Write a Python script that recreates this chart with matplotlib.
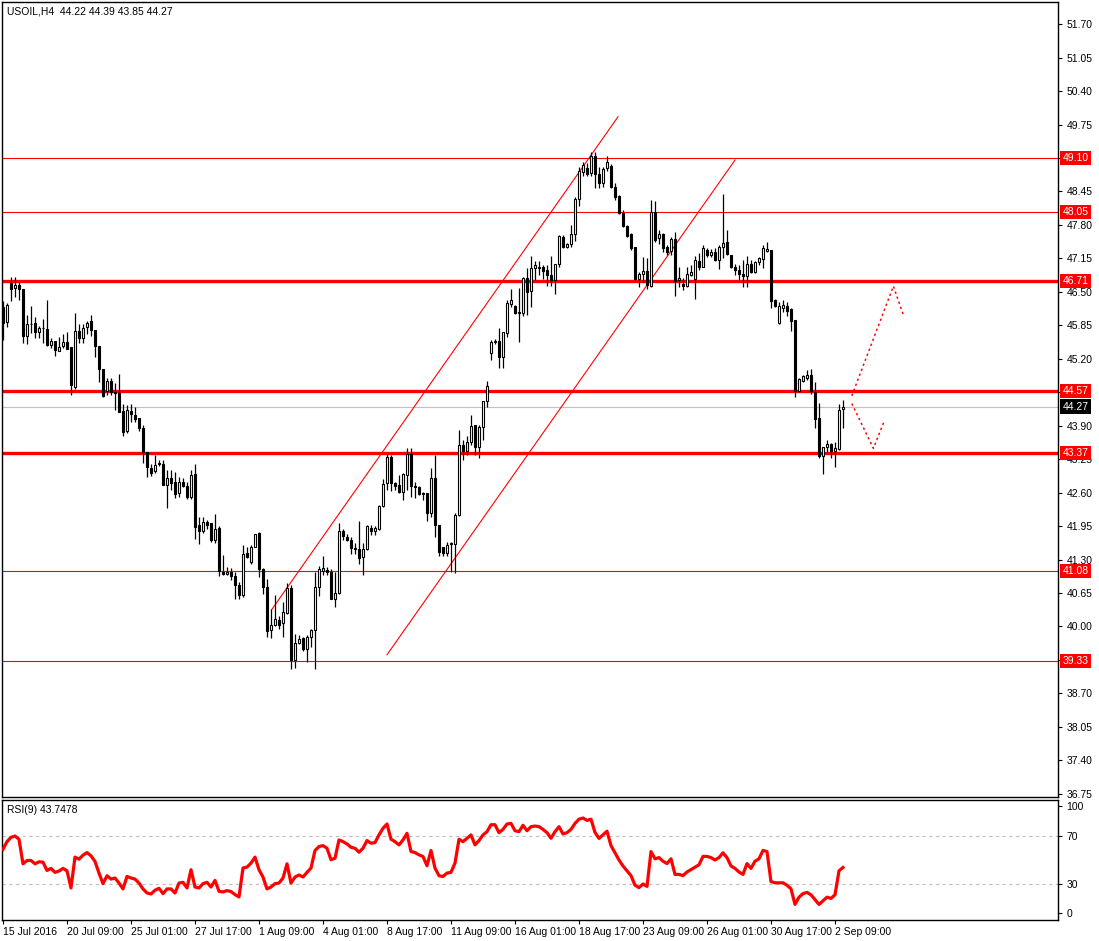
import matplotlib
matplotlib.use("Agg")
import matplotlib.pyplot as plt
import numpy as np

plt.rcParams["font.family"] = ["Liberation Sans", "DejaVu Sans"]

# ---------------- data (USOIL H4) ----------------
opens = [46.20, 45.91, 46.67, 46.57, 46.64, 46.55, 45.65, 45.87, 45.90, 45.71,
         45.79, 45.78, 45.47, 45.55, 45.36, 45.44, 45.52, 45.43, 44.66, 45.74,
         45.61, 45.81, 45.93, 45.76, 45.45, 45.01, 44.57, 44.76, 44.56, 44.53,
         44.19, 43.80, 44.19, 44.11, 44.04, 43.86, 43.39, 43.07, 43.01, 43.18,
         43.15, 42.75, 42.88, 42.80, 42.60, 42.81, 42.73, 42.52, 42.97, 41.97,
         41.86, 42.03, 42.00, 41.68, 41.92, 41.06, 41.02, 41.06, 40.98, 40.80,
         40.61, 41.42, 41.25, 41.55, 41.81, 41.11, 40.77, 39.94, 40.03, 40.12,
         40.06, 40.27, 40.74, 39.35, 39.68, 39.78, 39.57, 39.79, 39.94, 40.76,
         41.08, 41.10, 41.06, 40.53, 40.65, 41.86, 41.74, 41.68, 41.53, 41.50,
         41.34, 41.50, 41.91, 41.86, 41.89, 42.34, 42.78, 43.30, 42.78, 42.75,
         42.62, 42.94, 43.35, 42.72, 42.70, 42.60, 42.60, 42.20, 42.88, 41.97,
         41.54, 41.43, 41.63, 41.61, 42.17, 43.53, 43.41, 43.59, 43.91, 43.49,
         43.88, 44.37, 45.32, 45.52, 45.55, 45.23, 45.70, 46.26, 46.22, 46.10,
         46.08, 46.76, 46.52, 46.96, 46.99, 46.99, 46.92, 46.83, 46.73, 47.05,
         47.57, 47.38, 47.42, 47.62, 48.30, 48.83, 48.90, 48.80, 49.14, 48.79,
         48.62, 48.90, 48.95, 48.54, 48.36, 48.04, 47.78, 47.62, 47.37, 46.74,
         46.85, 46.91, 46.61, 48.06, 47.54, 47.62, 47.38, 47.30, 47.52, 46.73,
         46.66, 46.61, 46.83, 46.75, 47.09, 46.99, 47.31, 47.22, 47.28, 47.12,
         47.38, 47.46, 47.22, 46.99, 46.93, 46.85, 46.80, 47.05, 46.89, 47.07,
         47.13, 47.30, 47.31, 46.34, 45.89, 46.19, 46.22, 46.16, 45.95, 44.58,
         44.77, 44.82, 44.88, 44.56, 44.04, 43.31, 43.48, 43.54, 43.40, 43.44,
         44.22]
highs = [46.32, 46.28, 46.79, 46.78, 46.69, 46.56, 46.05, 46.22, 46.02, 45.83,
         45.98, 46.34, 45.60, 45.55, 45.63, 45.68, 45.72, 45.43, 46.09, 45.87,
         45.87, 45.93, 46.05, 45.76, 45.45, 45.01, 44.83, 44.83, 44.72, 44.90,
         44.32, 44.30, 44.32, 44.27, 44.04, 43.91, 43.39, 43.16, 43.33, 43.24,
         43.23, 43.04, 43.04, 43.00, 42.91, 42.88, 42.81, 43.04, 43.15, 42.13,
         42.13, 42.07, 42.00, 42.18, 41.95, 41.39, 41.15, 41.13, 41.06, 40.87,
         41.58, 41.54, 41.58, 41.79, 41.84, 41.13, 40.93, 40.33, 40.61, 40.20,
         40.48, 40.85, 40.80, 39.85, 39.83, 39.80, 39.83, 39.96, 41.06, 41.17,
         41.37, 41.16, 41.11, 41.06, 42.01, 41.90, 41.79, 41.74, 41.63, 42.05,
         41.63, 41.97, 41.97, 41.95, 42.36, 42.86, 43.35, 43.34, 42.81, 42.94,
         42.99, 43.46, 43.46, 42.81, 42.73, 42.62, 42.60, 43.07, 43.33, 41.97,
         41.54, 41.65, 41.65, 42.20, 43.82, 43.62, 43.69, 44.11, 43.91, 43.91,
         44.37, 44.76, 45.56, 45.58, 45.79, 45.71, 46.35, 46.55, 46.24, 46.57,
         46.78, 46.96, 47.20, 47.09, 47.09, 47.02, 47.02, 47.20, 47.05, 47.60,
         47.60, 47.44, 47.80, 48.35, 48.92, 49.03, 49.01, 49.22, 49.22, 48.93,
         48.92, 49.14, 48.98, 48.61, 48.38, 48.08, 47.80, 47.65, 47.37, 46.89,
         47.18, 47.15, 48.28, 48.27, 47.71, 47.64, 47.41, 47.57, 47.67, 46.99,
         46.76, 46.98, 47.02, 47.20, 47.26, 47.41, 47.35, 47.33, 47.35, 47.41,
         48.40, 47.70, 47.22, 47.05, 47.02, 47.12, 47.20, 47.12, 47.09, 47.17,
         47.41, 47.46, 47.31, 46.37, 46.31, 46.35, 46.31, 46.18, 45.95, 44.82,
         44.88, 44.99, 45.01, 44.75, 44.35, 43.49, 43.63, 43.57, 43.59, 44.33,
         44.39]
lows = [45.56, 45.82, 46.33, 46.40, 46.34, 45.51, 45.49, 45.70, 45.60, 45.60,
        45.51, 45.45, 45.40, 45.25, 45.35, 45.40, 45.39, 44.50, 44.61, 45.51,
        45.51, 45.69, 45.64, 45.23, 44.75, 44.45, 44.50, 44.50, 44.20, 44.17,
        43.69, 43.76, 43.98, 43.98, 43.80, 43.18, 42.91, 42.93, 42.99, 43.11,
        42.75, 42.31, 42.66, 42.50, 42.52, 42.71, 42.47, 42.47, 41.69, 41.61,
        41.81, 41.90, 41.65, 41.63, 40.98, 41.00, 40.99, 40.90, 40.53, 40.53,
        40.58, 41.32, 41.21, 41.54, 40.97, 40.64, 39.79, 39.77, 40.00, 39.96,
        39.80, 40.25, 39.18, 39.20, 39.66, 39.53, 39.31, 39.61, 39.18, 40.59,
        41.00, 41.00, 40.53, 40.38, 40.64, 41.68, 41.66, 41.41, 41.41, 41.21,
        41.00, 41.49, 41.78, 41.78, 41.87, 42.33, 42.65, 42.64, 42.65, 42.60,
        42.46, 42.65, 42.51, 42.49, 42.55, 42.46, 42.04, 42.13, 41.74, 41.36,
        41.36, 41.36, 41.06, 41.03, 42.15, 43.23, 43.33, 43.53, 43.33, 43.27,
        43.62, 44.27, 45.18, 45.49, 45.02, 45.02, 45.63, 46.21, 46.07, 45.53,
        46.03, 46.05, 46.21, 46.73, 46.83, 46.74, 46.61, 46.61, 46.46, 46.99,
        47.35, 47.35, 47.38, 47.48, 48.16, 48.75, 48.75, 48.75, 48.51, 48.51,
        48.54, 48.85, 48.51, 48.28, 48.01, 47.75, 47.56, 47.31, 46.73, 46.60,
        46.70, 46.55, 46.59, 47.47, 47.43, 47.28, 47.22, 47.22, 46.41, 46.60,
        46.54, 46.60, 46.80, 46.37, 46.93, 46.98, 47.17, 47.18, 47.09, 46.94,
        47.15, 47.22, 46.96, 46.83, 46.73, 46.60, 46.60, 46.86, 46.87, 47.02,
        46.96, 47.28, 46.18, 46.21, 45.88, 46.11, 46.03, 45.73, 44.46, 44.56,
        44.75, 44.79, 44.52, 43.85, 43.27, 42.96, 43.38, 43.27, 43.10, 43.43,
        43.85]
closes = [45.90, 46.24, 46.55, 46.64, 46.56, 45.65, 45.88, 45.88, 45.71, 45.80,
          45.79, 45.47, 45.55, 45.37, 45.42, 45.52, 45.39, 44.69, 45.73, 45.61,
          45.79, 45.90, 45.76, 45.45, 45.00, 44.47, 44.77, 44.56, 44.53, 44.17,
          43.78, 44.21, 44.12, 44.03, 43.86, 43.38, 43.09, 42.99, 43.14, 43.16,
          42.75, 42.88, 42.78, 42.57, 42.81, 42.73, 42.52, 42.95, 41.94, 41.86,
          42.03, 41.97, 41.68, 41.90, 41.08, 41.02, 41.06, 40.98, 40.80, 40.61,
          41.41, 41.34, 41.55, 41.79, 41.11, 40.77, 39.92, 40.03, 40.14, 40.03,
          40.29, 40.74, 39.35, 39.67, 39.76, 39.57, 39.80, 39.94, 40.76, 41.11,
          41.13, 41.06, 40.53, 40.65, 41.86, 41.76, 41.68, 41.52, 41.50, 41.32,
          41.50, 41.95, 41.86, 41.91, 42.34, 42.77, 43.30, 42.79, 42.72, 42.62,
          42.96, 43.35, 42.72, 42.70, 42.57, 42.57, 42.20, 42.88, 41.97, 41.45,
          41.43, 41.58, 41.60, 42.17, 43.53, 43.41, 43.59, 43.89, 43.49, 43.88,
          44.37, 44.67, 45.53, 45.54, 45.23, 45.71, 46.29, 46.34, 46.08, 46.08,
          46.76, 46.50, 46.96, 47.02, 46.96, 46.91, 46.83, 46.73, 47.05, 47.59,
          47.38, 47.43, 47.62, 48.30, 48.85, 48.96, 48.79, 49.13, 48.79, 48.61,
          48.88, 49.03, 48.54, 48.35, 48.04, 47.78, 47.59, 47.35, 46.74, 46.85,
          46.91, 46.63, 48.06, 47.51, 47.62, 47.35, 47.28, 47.52, 46.72, 46.76,
          46.61, 46.85, 46.89, 47.12, 46.98, 47.35, 47.22, 47.28, 47.12, 47.38,
          47.44, 47.24, 46.99, 46.93, 46.85, 46.80, 47.04, 46.89, 47.07, 47.15,
          47.35, 47.34, 46.33, 46.22, 46.22, 46.24, 46.13, 45.94, 44.58, 44.80,
          44.86, 44.88, 44.58, 44.02, 43.31, 43.48, 43.54, 43.40, 43.46, 44.20,
          44.27]
rsi = [59.0, 65.3, 68.9, 70.0, 67.3, 46.8, 49.6, 49.6, 46.8, 48.5,
       48.2, 41.3, 43.0, 39.7, 40.8, 43.0, 41.0, 26.7, 52.4, 50.7,
       54.0, 56.2, 53.5, 48.8, 39.1, 30.3, 36.9, 34.1, 35.0, 30.8,
       25.9, 36.3, 35.0, 34.1, 30.8, 25.9, 22.5, 21.7, 24.8, 26.4,
       22.0, 25.9, 25.9, 22.5, 30.8, 31.4, 26.7, 41.9, 27.5, 26.7,
       30.3, 31.4, 27.5, 33.0, 23.9, 23.4, 24.5, 23.7, 21.2, 19.2,
       43.3, 44.1, 47.4, 52.4, 41.9, 35.8, 25.9, 27.5, 30.3, 30.8,
       35.0, 46.8, 30.8, 35.8, 37.5, 35.8, 39.7, 43.3, 57.9, 61.2,
       62.0, 59.8, 50.2, 51.5, 66.7, 65.3, 63.4, 60.6, 59.8, 56.5,
       59.8, 66.2, 64.0, 64.5, 70.9, 76.4, 80.0, 67.3, 65.3, 62.6,
       66.7, 72.2, 57.1, 56.2, 54.3, 52.9, 45.2, 57.9, 43.3, 36.9,
       36.3, 39.1, 39.7, 47.4, 67.3, 65.3, 68.1, 70.9, 62.6, 66.2,
       70.9, 73.6, 79.4, 79.4, 72.8, 75.5, 80.0, 80.5, 74.4, 73.6,
       78.9, 74.4, 77.8, 78.3, 77.8, 75.5, 72.8, 68.1, 73.6, 77.8,
       71.7, 72.8, 75.5, 80.5, 84.0, 85.0, 83.0, 84.0, 73.0, 68.0,
       71.0, 74.0, 62.0, 56.0, 50.0, 45.0, 41.0, 37.0, 29.0, 27.0,
       30.0, 28.0, 57.0, 51.0, 52.0, 49.0, 47.0, 51.0, 38.0, 38.0,
       37.0, 40.0, 42.0, 44.0, 46.0, 53.0, 53.0, 52.0, 50.0, 52.0,
       56.0, 52.0, 45.0, 43.0, 40.0, 38.0, 47.0, 43.0, 49.0, 51.0,
       58.0, 57.0, 32.0, 31.0, 31.0, 31.0, 29.0, 26.0, 13.0, 19.0,
       22.0, 23.0, 21.0, 17.0, 13.0, 16.0, 19.0, 18.0, 21.0, 41.0,
       43.7478]

thin_levels = [49.10, 48.05, 41.08, 39.33]
thick_levels = [46.71, 44.57, 43.37]
current_price = 44.27

# price-scale ticks; the ones hidden behind level boxes carry no label
price_ticks = [36.75, 37.40, 38.05, 38.70, 39.35, 40.00, 40.65, 41.30, 41.95,
               42.60, 43.25, 43.90, 44.55, 45.20, 45.85, 46.50, 47.15, 47.80,
               48.45, 49.10, 49.75, 50.40, 51.05, 51.70]
hidden_ticks = [39.35, 44.55, 49.10]
time_tick_bars = [0, 16, 32, 48, 64, 80, 96, 112, 128, 144, 160, 176, 192, 208]
time_tick_labels = ["15 Jul 2016", "20 Jul 09:00", "25 Jul 01:00", "27 Jul 17:00",
                    "1 Aug 09:00", "4 Aug 01:00", "8 Aug 17:00", "11 Aug 09:00",
                    "16 Aug 01:00", "18 Aug 17:00", "23 Aug 09:00", "26 Aug 01:00",
                    "30 Aug 17:00", "2 Sep 09:00"]

# trend channel (bar index, price)
channel_upper_x = [67.2, 153.75]
channel_upper_y = [40.33, 49.90]
channel_lower_x = [96.0, 183.0]
channel_lower_y = [39.45, 49.06]
# projected scenarios (dotted)
proj_up_x = [212.2, 222.6, 225.1]
proj_up_y = [44.48, 46.61, 46.05]
proj_down_x = [212.2, 217.6, 220.25]
proj_down_y = [44.33, 43.46, 43.98]

# ---------------- figure ----------------
W, H = 1099, 941
fig = plt.figure(figsize=(W / 100, H / 100), dpi=100)
fig.patch.set_facecolor("white")
ax = fig.add_axes([2 / W, 1 - 797 / H, 1056 / W, 795 / H])
axr = fig.add_axes([2 / W, 1 - 920 / H, 1056 / W, 120 / H], sharex=ax)

FS = 7.5
o = np.array(opens); h = np.array(highs); l = np.array(lows); c = np.array(closes)
idx = np.arange(len(o))

# wicks
ax.vlines(idx, l, h, color="black", linewidth=0.9, zorder=3)
# bodies
up = c >= o
bottoms = np.minimum(o, c)
heights = np.maximum(np.abs(c - o), 0.012)
ax.bar(idx[up], heights[up], bottom=bottoms[up], width=0.55, color="white",
       edgecolor="black", linewidth=0.8, zorder=4)
ax.bar(idx[~up], heights[~up], bottom=bottoms[~up], width=0.55, color="black",
       edgecolor="black", linewidth=0.8, zorder=4)

# levels
for lv in thin_levels:
    ax.axhline(lv, color="#ff0000", linewidth=0.8, zorder=2)
for lv in thick_levels:
    ax.axhline(lv, color="#ff0000", linewidth=2.4, zorder=2)
ax.axhline(current_price, color="#c0c0c0", linewidth=0.8, zorder=1)

# channel
ax.plot(channel_upper_x, channel_upper_y, color="#ff0000", linewidth=0.8, zorder=2)
ax.plot(channel_lower_x, channel_lower_y, color="#ff0000", linewidth=0.8, zorder=2)
# projections
ax.plot(proj_up_x, proj_up_y, color="#ff0000", linewidth=1.1, linestyle=(0, (1.5, 2)), zorder=2)
ax.plot(proj_down_x, proj_down_y, color="#ff0000", linewidth=1.1, linestyle=(0, (1.5, 2)), zorder=2)

ax.set_xlim(-0.25, 263.75)
ax.set_ylim(36.687, 52.13)
ax.yaxis.tick_right()
ax.set_yticks(price_ticks)
ax.set_yticklabels(["" if v in hidden_ticks else f"{v:.2f}" for v in price_ticks])
ax.tick_params(axis="y", direction="out", length=3, width=0.8, labelsize=FS,
               pad=3, colors="black")
ax.tick_params(axis="x", bottom=False, labelbottom=False)
for sp in ax.spines.values():
    sp.set_linewidth(1.0)
    sp.set_color("black")

# price boxes
for lv in thin_levels + thick_levels:
    ax.annotate(f"{lv:.2f}", xy=(1.0, lv), xycoords=("axes fraction", "data"),
                xytext=(3.4, 0), textcoords="offset points", ha="left", va="center",
                fontsize=FS, color="white", zorder=10, annotation_clip=False,
                bbox=dict(boxstyle="square,pad=0.22", fc="#ff0000", ec="none"))
ax.annotate(f"{current_price:.2f}", xy=(1.0, current_price), xycoords=("axes fraction", "data"),
            xytext=(3.4, 0), textcoords="offset points", ha="left", va="center",
            fontsize=FS, color="white", zorder=10, annotation_clip=False,
            bbox=dict(boxstyle="square,pad=0.22", fc="black", ec="none"))

ax.text(5 / 1056, 1 - 9 / 795, f"USOIL,H4  {opens[-1]:.2f} {highs[-1]:.2f} {lows[-1]:.2f} {closes[-1]:.2f}",
        transform=ax.transAxes, fontsize=FS, va="center", ha="left", color="black")

# ---------------- RSI ----------------
axr.plot(idx, rsi, color="#ff0000", linewidth=2.3, zorder=3, solid_joinstyle="round")
for lv in (30, 70):
    axr.axhline(lv, color="#c0c0c0", linewidth=0.8, linestyle=(0, (3, 3)), zorder=1)
axr.set_ylim(0, 100)
axr.yaxis.tick_right()
axr.set_yticks([5.8, 30, 70, 94.8])
axr.set_yticklabels(["0", "30", "70", "100"])
axr.tick_params(axis="y", direction="out", length=3, width=0.8, labelsize=FS, pad=3)
axr.set_xticks(time_tick_bars)
axr.set_xticklabels(time_tick_labels)
axr.tick_params(axis="x", direction="out", length=3, width=0.8, labelsize=FS, pad=2)
for t in axr.get_xticklabels():
    t.set_horizontalalignment("left")
for sp in axr.spines.values():
    sp.set_linewidth(1.0)
    sp.set_color("black")
axr.text(5 / 1056, 1 - 10 / 120, f"RSI(9) {rsi[-1]:.4f}", transform=axr.transAxes,
         fontsize=FS, va="center", ha="left", color="black")

fig.savefig("out.png", dpi=100, facecolor="white")
